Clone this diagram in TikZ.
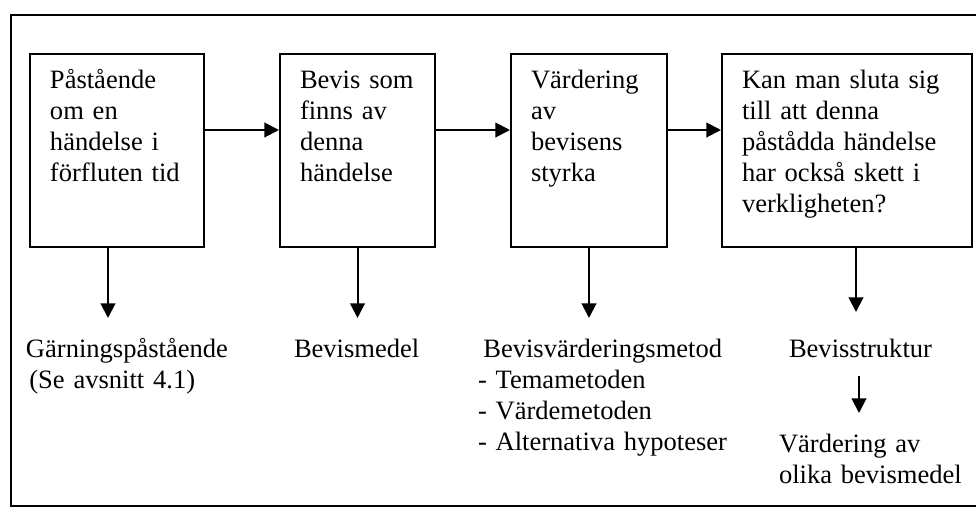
\documentclass[tikz,border=0pt]{standalone}
\usepackage{fontspec}
\setmainfont{Liberation Serif}
\usetikzlibrary{arrows.meta}

\begin{document}
\begin{tikzpicture}[x=0.75pt,y=0.75pt,yscale=-1,xscale=1,
    font=\fontsize{19.9pt}{23.25pt}\selectfont,
    line width=1.5pt,
    stage/.style={draw, anchor=north west, align=left, inner xsep=15pt, inner ysep=10pt, text height=15.75pt, text depth=109pt},
    outcome/.style={anchor=base west, align=left, text width=220pt, inner xsep=0pt, inner ysep=13.5pt, text height=15pt},
    flow/.style={-{Triangle[length=11pt,width=11pt]}}]
    \useasboundingbox (0,0) rectangle (976,507);

    %Frame (right side cut off)
    \draw (976,15) -- (11,15) -- (11,506) -- (976,506) ;

    % Stage boxes
    \node [stage, text width=100.5pt] (pa) at (29,53) {Påstående\\om en\\händelse i\\förfluten tid};
    \node [stage, text width=86.25pt] (bv) at (279,53) {Bevis som\\finns av\\denna\\händelse};
    \node [stage, text width=87pt] (vb) at (510,53) {Värdering\\av\\bevisens\\styrka};
    \node [stage, text width=157.5pt] (ks) at (721,53) {Kan man sluta sig\\till att denna\\påstådda händelse\\har också skett i\\verkligheten?};

    % Text Nodes
    \node [outcome] (gp) at (25,357) {Gärningspåstående\\\hspace*{2.5pt}(Se avsnitt 4.1)};
    \node [outcome] (bm) at (293,357) {Bevismedel};
    \node [outcome] (bvm) at (477,357) {\hspace*{4pt}Bevisvärderingsmetod\\- Temametoden\\- Värdemetoden\\- Alternativa hypoteser};
    \node [outcome] (bs) at (788,357) {Bevisstruktur};
    \node [outcome] (vo) at (778,452) {Värdering av\\olika bevismedel};

    %Arrows between the boxes
    \draw [flow] ([yshift=57.75pt]pa.north east) -- ([yshift=57.75pt]bv.north west) ;
    \draw [flow] ([yshift=57.75pt]bv.north east) -- ([yshift=57.75pt]vb.north west) ;
    \draw [flow] ([yshift=57.75pt]vb.north east) -- ([yshift=57.75pt]ks.north west) ;

    %Arrows down to the texts
    \draw [flow] ([xshift=-6.75pt]pa.south) -- ([xshift=-6.75pt]pa.south |- gp.north) ;
    \draw [flow] (bv.south) -- (bv.south |- bm.north) ;
    \draw [flow] (vb.south) -- (vb.south |- bvm.north) ;
    \draw [flow, shorten >=4.5pt] ([xshift=6.75pt]ks.south) -- ([xshift=6.75pt]ks.south |- bs.north) ;
    \draw [flow] ([xshift=9pt]ks.south |- bs.south) -- ([xshift=9pt]ks.south |- vo.north) ;

\end{tikzpicture}
\end{document}
